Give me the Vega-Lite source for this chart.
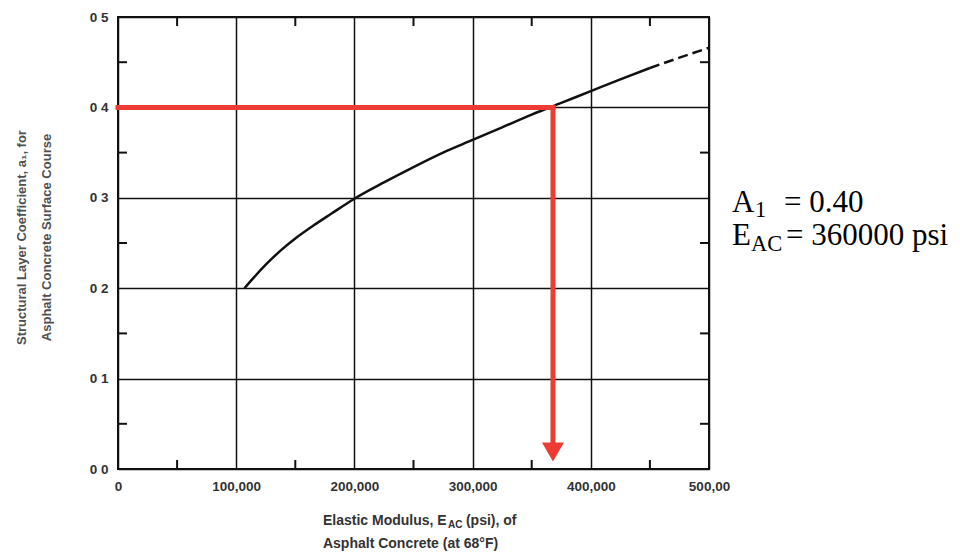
{
  "$schema": "https://vega.github.io/schema/vega-lite/v6.json",
  "width": 591,
  "height": 452,
  "autosize": {"type": "none"},
  "padding": {"left": 118, "top": 17, "right": 251, "bottom": 85},
  "background": "#ffffff",
  "config": {
    "view": {"stroke": "#111111", "strokeWidth": 2},
    "axis": {
      "domain": false,
      "ticks": false,
      "grid": true,
      "gridColor": "#111111",
      "gridWidth": 1.5,
      "gridOpacity": 1,
      "labelFont": "Liberation Sans",
      "labelFontSize": 13.5,
      "labelFontWeight": "bold",
      "labelColor": "#333333",
      "labelPadding": 10,
      "labelFlush": false,
      "labelOverlap": false,
      "labelBound": false
    }
  },
  "datasets": {
    "curve": [
      {"x": 107000, "y": 0.200, "seg": "solid"},
      {"x": 115000, "y": 0.212, "seg": "solid"},
      {"x": 125000, "y": 0.226, "seg": "solid"},
      {"x": 137000, "y": 0.241, "seg": "solid"},
      {"x": 150000, "y": 0.255, "seg": "solid"},
      {"x": 165000, "y": 0.269, "seg": "solid"},
      {"x": 180000, "y": 0.282, "seg": "solid"},
      {"x": 200000, "y": 0.299, "seg": "solid"},
      {"x": 225000, "y": 0.317, "seg": "solid"},
      {"x": 250000, "y": 0.334, "seg": "solid"},
      {"x": 275000, "y": 0.350, "seg": "solid"},
      {"x": 300000, "y": 0.364, "seg": "solid"},
      {"x": 325000, "y": 0.378, "seg": "solid"},
      {"x": 350000, "y": 0.392, "seg": "solid"},
      {"x": 375000, "y": 0.405, "seg": "solid"},
      {"x": 400000, "y": 0.418, "seg": "solid"},
      {"x": 425000, "y": 0.431, "seg": "solid"},
      {"x": 450000, "y": 0.4436, "seg": "solid"},
      {"x": 450000, "y": 0.4436, "seg": "dash"},
      {"x": 475000, "y": 0.455, "seg": "dash"},
      {"x": 500000, "y": 0.466, "seg": "dash"}
    ],
    "ticks": [
      {"x": 50000, "x2": 50000, "y": 0, "y2": 0.01},
      {"x": 150000, "x2": 150000, "y": 0, "y2": 0.01},
      {"x": 250000, "x2": 250000, "y": 0, "y2": 0.01},
      {"x": 350000, "x2": 350000, "y": 0, "y2": 0.01},
      {"x": 450000, "x2": 450000, "y": 0, "y2": 0.01},
      {"x": 50000, "x2": 50000, "y": 0.5, "y2": 0.49},
      {"x": 150000, "x2": 150000, "y": 0.5, "y2": 0.49},
      {"x": 250000, "x2": 250000, "y": 0.5, "y2": 0.49},
      {"x": 350000, "x2": 350000, "y": 0.5, "y2": 0.49},
      {"x": 450000, "x2": 450000, "y": 0.5, "y2": 0.49},
      {"x": 0, "x2": 7600, "y": 0.05, "y2": 0.05},
      {"x": 0, "x2": 7600, "y": 0.15, "y2": 0.15},
      {"x": 0, "x2": 7600, "y": 0.25, "y2": 0.25},
      {"x": 0, "x2": 7600, "y": 0.35, "y2": 0.35},
      {"x": 0, "x2": 7600, "y": 0.45, "y2": 0.45},
      {"x": 500000, "x2": 492400, "y": 0.05, "y2": 0.05},
      {"x": 500000, "x2": 492400, "y": 0.15, "y2": 0.15},
      {"x": 500000, "x2": 492400, "y": 0.25, "y2": 0.25},
      {"x": 500000, "x2": 492400, "y": 0.35, "y2": 0.35},
      {"x": 500000, "x2": 492400, "y": 0.45, "y2": 0.45}
    ],
    "red": [
      {"x": 0, "x2": 368000, "y": 0.4, "y2": 0.4},
      {"x": 368000, "x2": 368000, "y": 0.4, "y2": 0.03}
    ],
    "arrow": [
      {"x": 368000, "y": 0.0188}
    ],
    "notes": [
      {"id": "xt1a", "text": "Elastic Modulus, E"},
      {"id": "xt1b", "text": "AC"},
      {"id": "xt1c", "text": "(psi), of"},
      {"id": "xt2", "text": "Asphalt Concrete (at 68°F)"},
      {"id": "r1a", "text": "A"},
      {"id": "r1b", "text": "1"},
      {"id": "r1c", "text": "= 0.40"},
      {"id": "r2a", "text": "E"},
      {"id": "r2b", "text": "AC"},
      {"id": "r2c", "text": "= 360000 psi"}
    ]
  },
  "layer": [
    {
      "data": {"name": "ticks"},
      "mark": {"type": "rule", "color": "#111111", "strokeWidth": 2},
      "encoding": {
        "x": {
          "field": "x", "type": "quantitative",
          "scale": {"domain": [0, 500000], "nice": false, "zero": false},
          "axis": {
            "values": [0, 100000, 200000, 300000, 400000, 500000],
            "title": "",
            "labelExpr": "datum.value == 500000 ? '500,00' : format(datum.value, ',')",
            "labelDx": 3
          }
        },
        "x2": {"field": "x2"},
        "y": {
          "field": "y", "type": "quantitative",
          "scale": {"domain": [0, 0.5], "nice": false, "zero": false},
          "axis": {
            "values": [0, 0.1, 0.2, 0.3, 0.4, 0.5],
            "labelExpr": "replace(format(datum.value, '.1f'), '.', ' ')",
            "title": ["Structural Layer Coefficient, a\u2081, for", "Asphalt Concrete Surface Course"],
            "titleFont": "Liberation Sans",
            "titleFontSize": 13,
            "titleFontWeight": "bold",
            "titleColor": "#505050",
            "titleLineHeight": 25,
            "titleAngle": -90,
            "titleAlign": "center",
            "titleBaseline": "middle",
            "titleX": -97,
            "titleY": 220
          }
        },
        "y2": {"field": "y2"}
      }
    },
    {
      "data": {"name": "curve"},
      "transform": [{"filter": "datum.seg == 'solid'"}],
      "mark": {"type": "line", "color": "#111111", "strokeWidth": 2.5, "interpolate": "monotone"},
      "encoding": {
        "x": {"field": "x", "type": "quantitative"},
        "y": {"field": "y", "type": "quantitative"}
      }
    },
    {
      "data": {"name": "curve"},
      "transform": [{"filter": "datum.seg == 'dash'"}],
      "mark": {"type": "line", "color": "#111111", "strokeWidth": 2.5, "strokeDash": [10, 5], "interpolate": "monotone"},
      "encoding": {
        "x": {"field": "x", "type": "quantitative"},
        "y": {"field": "y", "type": "quantitative"}
      }
    },
    {
      "data": {"name": "red"},
      "mark": {"type": "rule", "color": "#ee3b34", "strokeWidth": 5, "strokeCap": "square"},
      "encoding": {
        "x": {"field": "x", "type": "quantitative"},
        "x2": {"field": "x2"},
        "y": {"field": "y", "type": "quantitative"},
        "y2": {"field": "y2"}
      }
    },
    {
      "data": {"name": "arrow"},
      "mark": {"type": "point", "shape": "triangle-down", "size": 484, "filled": true, "color": "#ee3b34", "opacity": 1, "strokeWidth": 0},
      "encoding": {
        "x": {"field": "x", "type": "quantitative"},
        "y": {"field": "y", "type": "quantitative"}
      }
    },
    {
      "data": {"name": "notes"},
      "transform": [{"filter": "datum.id == 'xt1a'"}],
      "mark": {"type": "text", "font": "Liberation Sans", "fontSize": 14, "fontWeight": "bold", "color": "#333333", "align": "left", "baseline": "middle"},
      "encoding": {"x": {"datum": 173400, "type": "quantitative"}, "y": {"datum": -0.0575, "type": "quantitative"}, "text": {"field": "text"}}
    },
    {
      "data": {"name": "notes"},
      "transform": [{"filter": "datum.id == 'xt1b'"}],
      "mark": {"type": "text", "font": "Liberation Sans", "fontSize": 10, "fontWeight": "bold", "color": "#333333", "align": "left", "baseline": "middle", "dx": 125, "dy": 4},
      "encoding": {"x": {"datum": 173400, "type": "quantitative"}, "y": {"datum": -0.0575, "type": "quantitative"}, "text": {"field": "text"}}
    },
    {
      "data": {"name": "notes"},
      "transform": [{"filter": "datum.id == 'xt1c'"}],
      "mark": {"type": "text", "font": "Liberation Sans", "fontSize": 14, "fontWeight": "bold", "color": "#333333", "align": "left", "baseline": "middle", "dx": 143},
      "encoding": {"x": {"datum": 173400, "type": "quantitative"}, "y": {"datum": -0.0575, "type": "quantitative"}, "text": {"field": "text"}}
    },
    {
      "data": {"name": "notes"},
      "transform": [{"filter": "datum.id == 'xt2'"}],
      "mark": {"type": "text", "font": "Liberation Sans", "fontSize": 14, "fontWeight": "bold", "color": "#333333", "align": "left", "baseline": "middle"},
      "encoding": {"x": {"datum": 173400, "type": "quantitative"}, "y": {"datum": -0.0835, "type": "quantitative"}, "text": {"field": "text"}}
    },
    {
      "data": {"name": "notes"},
      "transform": [{"filter": "datum.id == 'r1a'"}],
      "mark": {"type": "text", "font": "Liberation Serif", "fontSize": 31, "color": "#000000", "align": "left", "baseline": "alphabetic"},
      "encoding": {"x": {"datum": 519500, "type": "quantitative"}, "y": {"datum": 0.2843, "type": "quantitative"}, "text": {"field": "text"}}
    },
    {
      "data": {"name": "notes"},
      "transform": [{"filter": "datum.id == 'r1b'"}],
      "mark": {"type": "text", "font": "Liberation Serif", "fontSize": 22.5, "color": "#000000", "align": "left", "baseline": "alphabetic", "dx": 23, "dy": 5},
      "encoding": {"x": {"datum": 519500, "type": "quantitative"}, "y": {"datum": 0.2843, "type": "quantitative"}, "text": {"field": "text"}}
    },
    {
      "data": {"name": "notes"},
      "transform": [{"filter": "datum.id == 'r1c'"}],
      "mark": {"type": "text", "font": "Liberation Serif", "fontSize": 31, "color": "#000000", "align": "left", "baseline": "alphabetic", "dx": 52},
      "encoding": {"x": {"datum": 519500, "type": "quantitative"}, "y": {"datum": 0.2843, "type": "quantitative"}, "text": {"field": "text"}}
    },
    {
      "data": {"name": "notes"},
      "transform": [{"filter": "datum.id == 'r2a'"}],
      "mark": {"type": "text", "font": "Liberation Serif", "fontSize": 31, "color": "#000000", "align": "left", "baseline": "alphabetic"},
      "encoding": {"x": {"datum": 519500, "type": "quantitative"}, "y": {"datum": 0.2478, "type": "quantitative"}, "text": {"field": "text"}}
    },
    {
      "data": {"name": "notes"},
      "transform": [{"filter": "datum.id == 'r2b'"}],
      "mark": {"type": "text", "font": "Liberation Serif", "fontSize": 22.5, "color": "#000000", "align": "left", "baseline": "alphabetic", "dx": 19, "dy": 6},
      "encoding": {"x": {"datum": 519500, "type": "quantitative"}, "y": {"datum": 0.2478, "type": "quantitative"}, "text": {"field": "text"}}
    },
    {
      "data": {"name": "notes"},
      "transform": [{"filter": "datum.id == 'r2c'"}],
      "mark": {"type": "text", "font": "Liberation Serif", "fontSize": 31, "color": "#000000", "align": "left", "baseline": "alphabetic", "dx": 54},
      "encoding": {"x": {"datum": 519500, "type": "quantitative"}, "y": {"datum": 0.2478, "type": "quantitative"}, "text": {"field": "text"}}
    }
  ]
}
